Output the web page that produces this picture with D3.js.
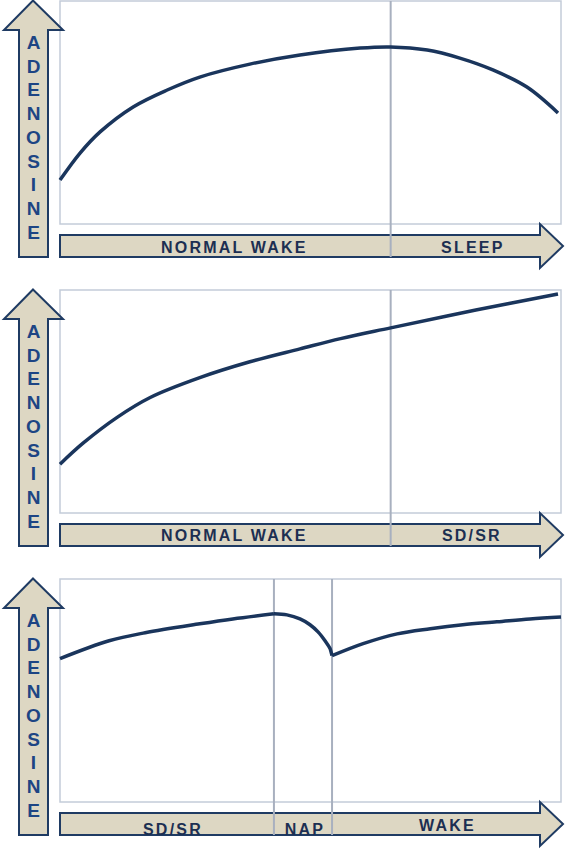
<!DOCTYPE html>
<html>
<head>
<meta charset="utf-8">
<script src="https://cdn.jsdelivr.net/npm/d3@7"></script>
<style>
  html, body { margin: 0; padding: 0; background: #fff; }
  svg { display: block; }
</style>
</head>
<body>
<svg id="chart" width="568" height="850"></svg>
<script>
// y-axis word, same in all three panels
const yLabel = 'ADENOSINE';

// panel 1: normal wake then sleep
const p1Phases = ['NORMAL WAKE', 'SLEEP'];
const p1Bounds = [0, 66, 100];
const p1Time = [0, 4, 8, 14.6, 21.4, 27.9, 37.9, 47.9, 59.9, 66, 73.3, 79.8, 86.4, 93.2, 99.4];
const p1Aden = [19.7, 31.8, 41.3, 52.5, 60.1, 65.9, 71.7, 75.8, 78.9, 79.4, 78.0, 74.4, 69.1, 61.4, 49.8];

// panel 2: normal wake then sleep deprivation / restriction
const p2Phases = ['NORMAL WAKE', 'SD/SR'];
const p2Bounds = [0, 66, 100];
const p2Time = [0, 4.6, 11.4, 18, 27.9, 37.9, 47.9, 56, 66, 83, 99.4];
const p2Aden = [21.9, 31.3, 42.9, 51.8, 60.7, 67.8, 73.6, 78.2, 83, 91, 98.2];

// panel 3: SD/SR, nap, wake (drawn as three pieces so the nap cusp stays sharp)
const p3Phases = ['SD/SR', 'NAP', 'WAKE'];
const p3Bounds = [0, 42.7, 54.3, 100];
const p3PreTime = [0, 9.8, 17, 27.9, 34.5, 42.7];
const p3PreAden = [64.3, 72.3, 75.9, 79.9, 82.1, 84.4];
const p3NapTime = [42.7, 45.3, 47.9, 49.9, 51.5, 52.9, 53.9, 54.3];
const p3NapAden = [84.4, 83.9, 82.1, 79.5, 76.3, 72.3, 68.8, 65.6];
const p3PostTime = [54.3, 60.5, 67.3, 73.9, 80.4, 87.2, 93.8, 100];
const p3PostAden = [65.6, 71.0, 75.4, 77.7, 79.5, 80.8, 82.1, 83.0];

const zip = (t, a) => t.map((d, i) => [d, a[i]]);

// layout per panel: top offset and small nudges for the phase labels
const panels = [
  {top: 0, phases: p1Phases, bounds: p1Bounds, series: [zip(p1Time, p1Aden)],
    labelDx: [9, -3], labelDy: [0, 0]},
  {top: 289, phases: p2Phases, bounds: p2Bounds, series: [zip(p2Time, p2Aden)],
    labelDx: [9, -4], labelDy: [-1, -1]},
  {top: 578, phases: p3Phases, bounds: p3Bounds,
    series: [zip(p3PreTime, p3PreAden), zip(p3NapTime, p3NapAden), zip(p3PostTime, p3PostAden)],
    labelDx: [6, 2, 1], labelDy: [4, 4, 0]}
];

const svg = d3.select('#chart');

const colors = {
  arrowFill: '#ddd7c3',
  arrowStroke: '#1f3b63',
  frame: '#c3ccd9',
  divider: '#a8b0bf',
  curve: '#1a355c',
  yText: '#1d4584',
  xText: '#1c2f52'
};

const x = d3.scaleLinear().domain([0, 100]).range([60, 561]);

const drawPanel = (panel) => {
  const t = panel.top;
  const g = svg.append('g').attr('class', 'panel');
  const y = d3.scaleLinear().domain([0, 100]).range([t + 224, t + 1]);

  // plot frame
  g.append('rect')
    .attr('x', x.range()[0])
    .attr('y', t + 1)
    .attr('width', x.range()[1] - x.range()[0])
    .attr('height', 223)
    .attr('fill', '#fff')
    .attr('stroke', colors.frame)
    .attr('stroke-width', 1.5);

  // vertical arrow
  const vPath = d3.path();
  vPath.moveTo(33, t + 0.5);
  vPath.lineTo(63, t + 30);
  vPath.lineTo(48, t + 30);
  vPath.lineTo(48, t + 257);
  vPath.lineTo(19, t + 257);
  vPath.lineTo(19, t + 30);
  vPath.lineTo(4, t + 30);
  vPath.closePath();
  g.append('path')
    .attr('d', vPath.toString())
    .attr('fill', colors.arrowFill)
    .attr('stroke', colors.arrowStroke)
    .attr('stroke-width', 2)
    .attr('stroke-linejoin', 'miter');

  g.append('g')
    .selectAll('text')
    .data(yLabel.split(''))
    .join('text')
    .attr('x', 33.5)
    .attr('y', (d, i) => t + 49 + i * 23.7)
    .attr('text-anchor', 'middle')
    .attr('font-family', '"Liberation Sans", Arial, sans-serif')
    .attr('font-weight', 'bold')
    .attr('font-size', 19)
    .attr('fill', colors.yText)
    .text(d => d);

  // horizontal arrow
  const hPath = d3.path();
  hPath.moveTo(60, t + 235);
  hPath.lineTo(540, t + 235);
  hPath.lineTo(540, t + 224);
  hPath.lineTo(563, t + 246);
  hPath.lineTo(540, t + 268);
  hPath.lineTo(540, t + 257);
  hPath.lineTo(60, t + 257);
  hPath.closePath();
  g.append('path')
    .attr('d', hPath.toString())
    .attr('fill', colors.arrowFill)
    .attr('stroke', colors.arrowStroke)
    .attr('stroke-width', 2);

  // phase dividers
  g.selectAll('line.divider')
    .data(panel.bounds.slice(1, -1))
    .join('line')
    .attr('class', 'divider')
    .attr('x1', d => x(d))
    .attr('x2', d => x(d))
    .attr('y1', t + 1)
    .attr('y2', t + 257)
    .attr('stroke', colors.divider)
    .attr('stroke-width', 2);

  // phase labels
  g.selectAll('text.phase')
    .data(panel.phases)
    .join('text')
    .attr('class', 'phase')
    .attr('x', (d, i) => (x(panel.bounds[i]) + x(panel.bounds[i + 1])) / 2 + panel.labelDx[i])
    .attr('y', (d, i) => t + 253 + panel.labelDy[i])
    .attr('text-anchor', 'middle')
    .attr('font-family', '"Liberation Sans", Arial, sans-serif')
    .attr('font-weight', 'bold')
    .attr('font-size', 16)
    .attr('letter-spacing', 2.2)
    .attr('fill', colors.xText)
    .text(d => d);

  // adenosine curve
  const line = d3.line()
    .x(d => x(d[0]))
    .y(d => y(d[1]))
    .curve(d3.curveCatmullRom.alpha(0.5));

  g.selectAll('path.curve')
    .data(panel.series)
    .join('path')
    .attr('class', 'curve')
    .attr('d', line)
    .attr('fill', 'none')
    .attr('stroke', colors.curve)
    .attr('stroke-width', 3.5)
    .attr('stroke-linejoin', 'round');
};

panels.forEach(drawPanel);
</script>
</body>
</html>
